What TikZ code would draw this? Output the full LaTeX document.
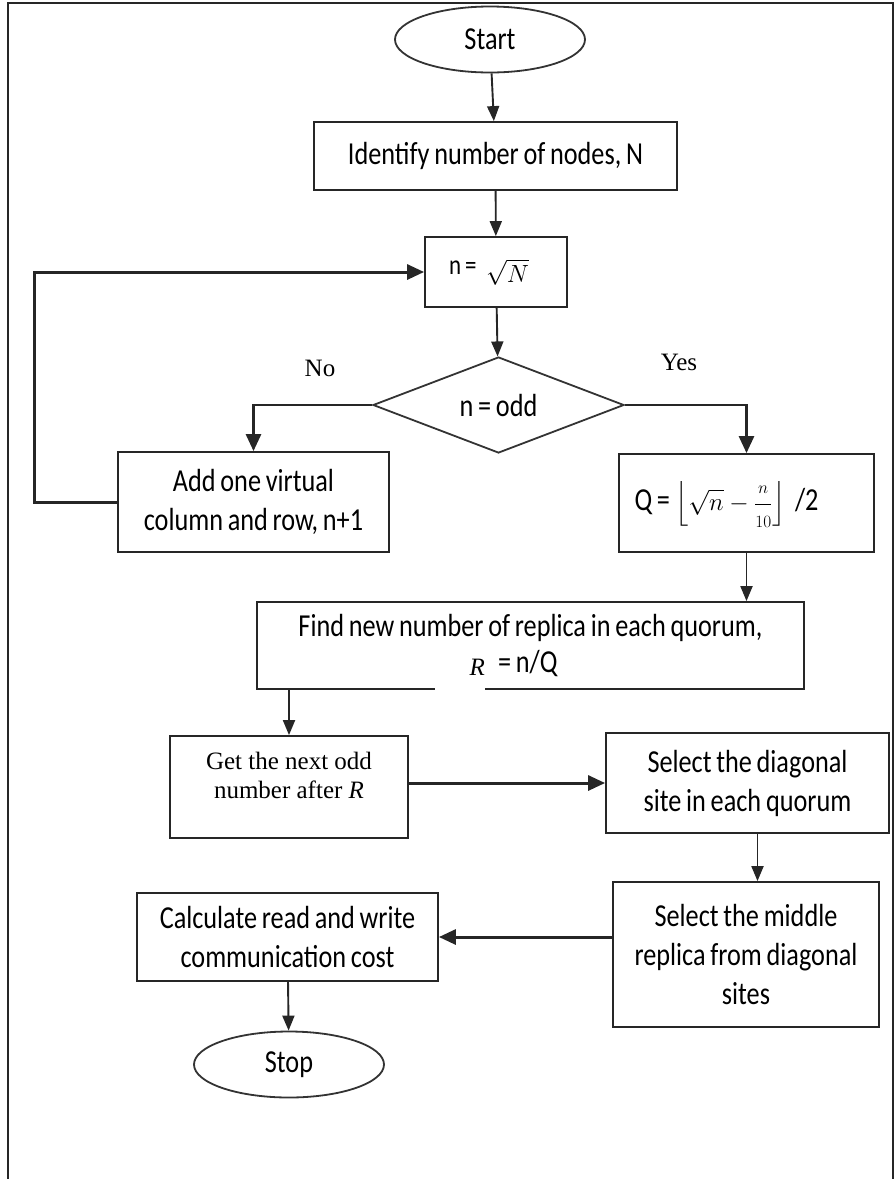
\documentclass[tikz,border=0pt]{standalone}
\usepackage{amsmath}
\usepackage{fontspec}
\usetikzlibrary{arrows.meta, shapes.geometric}
\newfontfamily\calib{Carlito}[FakeStretch=0.82,WordSpace=0.8]
\newfontfamily\tms{Liberation Serif}
\tikzset{
  flow/.style={draw=black!85, line width=1.9pt, -{Triangle[length=15pt,width=12pt]}},
  heavyflow/.style={flow, line width=3pt, -{Triangle[length=17pt,width=15pt]}}
}

\begin{document}
\begin{tikzpicture}[x=1pt,y=-1pt]
	\tikzset{termin/.style = {ellipse, draw=black!80, line width=1.8pt, fill=white, inner sep=0pt,
			minimum width=190pt, minimum height=66pt, font=\calib\fontsize{32}{38}\selectfont}}
	\tikzset{procbox/.style = {rectangle, draw=black!85, line width=1.8pt, fill=white, inner sep=0pt,
			align=center, font=\calib\fontsize{32}{39}\selectfont}}
	\tikzset{decis/.style = {diamond, draw=black!80, line width=1.8pt, fill=white, inner sep=0pt,
			aspect=2.6, minimum width=251pt, minimum height=96pt, font=\calib\fontsize{32}{38}\selectfont}}
	\tikzset{lbl/.style = {inner sep=0pt, font=\tms\fontsize{25}{29}\selectfont}}

	\useasboundingbox (0,0) rectangle (896,1179);
	\draw[line width=1.4pt, black!85] (8,1179) |- (893,3) -- (893,1179);

	\node[termin] (start) at (490,39.5) {Start};
	\node[procbox, minimum width=363pt, minimum height=68pt] (ident) at (495.5,156) {Identify number of nodes, N};
	\node[procbox, minimum width=142pt, minimum height=70pt] (nbox) at (496,272)
		{\raisebox{8pt}{\fontsize{28}{32}\selectfont n =}\ \ {\fontsize{34}{40}\selectfont$\sqrt{N}$}\hspace*{14pt}};
	\node[decis] (dec) at (498.5,405) {n = odd};
	\node[lbl] (nolbl) at (320,368) {No};
	\node[lbl] (yeslbl) at (679,362) {Yes};

	\node[procbox, minimum width=271pt, minimum height=100pt] (addcol) at (253.5,502)
		{Add one virtual\\column and row, n+1};
	\node[procbox, minimum width=255pt, minimum height=98pt, text depth=14pt] (qbox) at (746.5,503)
		{Q =\,{\fontsize{27}{32}\selectfont$\displaystyle\left\lfloor \sqrt{n}-\frac{\scriptstyle n}{\scriptstyle 10}\right\rfloor$}\ \ /2\hspace*{40pt}};

	\node[procbox, minimum width=547pt, minimum height=87pt, font=\calib\fontsize{32}{36}\selectfont] (find) at (530.5,645.5)
		{Find new number of replica in each quorum,\\\phantom{\tms\itshape R}\hspace{9pt}= n/Q\hspace*{34pt}};
	% equation object pasted over the box edge
	\node[fill=white, inner sep=0pt, minimum height=48pt, text width=50pt, align=right,
		font=\tms\itshape\fontsize{25}{29}\selectfont] (rsym) at (460,667) {R};

	\node[procbox, minimum width=238pt, minimum height=102pt, text depth=24pt,
		font=\tms\fontsize{25}{29}\selectfont] (next) at (289,787)
		{Get the next odd\\number after \textit{R}};
	\node[procbox, minimum width=283pt, minimum height=100pt] (diag) at (747.5,783)
		{Select the diagonal\\site in each quorum};
	\node[procbox, minimum width=266pt, minimum height=145pt] (middle) at (746,954.5)
		{Select the middle\\replica from diagonal\\sites};
	\node[procbox, minimum width=301pt, minimum height=88pt] (calc) at (287.5,937)
		{Calculate read and write\\communication cost};
	\node[termin] (stop) at (289,1064.5) {Stop};

	\coordinate (loopx) at (34,0);

	\draw[flow] (start) -- (ident);
	\draw[flow] (ident) -- (nbox);
	\draw[flow] (nbox) -- (dec);
	\draw[heavyflow, line width=2.7pt] (dec.west) -| (addcol.north);
	\draw[heavyflow, line width=2.7pt] (dec.east) -| (qbox.north);
	\draw[heavyflow] (addcol.west) -- (addcol.west -| loopx) |- (nbox.west);
	\draw[flow] (qbox.south) -- (qbox.south |- find.north);
	\draw[flow] (next.north |- find.south) -- (next.north);
	\draw[heavyflow] (next.east |- diag.west) -- (diag.west);
	\draw[flow] ([xshift=10pt]diag.south) -- ([xshift=10pt]diag.south |- middle.north);
	\draw[heavyflow] (middle.west |- calc.east) -- (calc.east);
	\draw[flow] (calc) -- (stop);

\end{tikzpicture}
\end{document}
